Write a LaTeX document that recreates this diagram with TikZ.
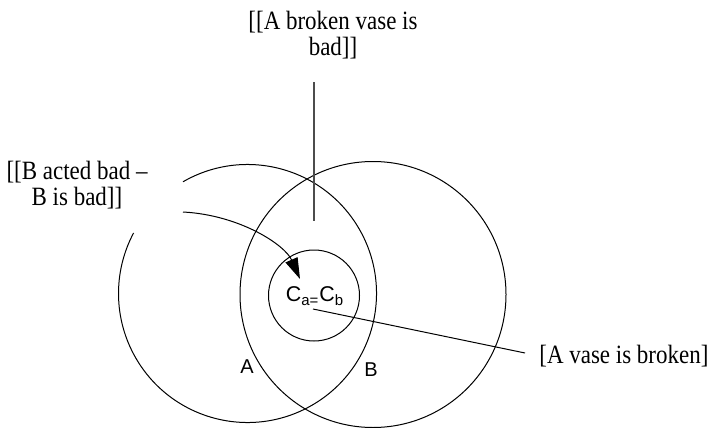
\documentclass[tikz,border=0pt]{standalone}
\usepackage{fontspec}
\setmainfont{Liberation Serif}[FakeStretch=0.87]
\setsansfont{Liberation Sans}
\usetikzlibrary{arrows.meta}

\begin{document}
\begin{tikzpicture}[x=0.5pt, y=-0.5pt,
  every node/.style={font=\fontsize{13.2}{13}\selectfont, inner sep=0pt},
  setlabel/.style={font=\sffamily\fontsize{10}{11}\selectfont},
  leader/.style={line width=0.5pt}]
  \useasboundingbox (0,0) rectangle (712,428);

  % circles
  \draw[leader] (247.5,293.5) ++(-120:129) arc[start angle=-120, end angle=208, radius=129];
  \draw[leader] (373,294.5) circle[radius=133];
  \draw[leader] (314,295.5) circle[radius=45.5];

  % texts
  \node[align=center] (broken) at (333,35) {[[A broken vase is\\bad]]};
  \node[align=center] (acted) at (77,185) {[[B acted bad –\\B is bad]]};
  \node[anchor=west] (vase) at (539,356) {[A vase is broken]};
  \node[font=\sffamily\fontsize{10.7}{12}\selectfont] (Cab) at (315,296) {C\textsubscript{a=}C\textsubscript{b}};
  \node[setlabel] (A) at (247,367) {A};
  \node[setlabel] (B) at (371,370) {B};

  % leader lines
  \coordinate (brokenTail) at (314,82);
  \coordinate (brokenHead) at (314,221);
  \draw[line width=0.6pt, black!70] (brokenTail) -- (brokenHead);

  \coordinate (actedTail) at (183,212);
  \coordinate (actedHead) at (300,279);
  \draw[leader, -{Triangle[length=10.5pt, width=6.5pt]}] (actedTail) .. controls (240,215) and (285,245) .. (actedHead);

  \coordinate (vaseTail) at (313,309);
  \coordinate (vaseHead) at (525,353);
  \draw[leader] (vaseTail) -- (vaseHead);
\end{tikzpicture}
\end{document}
